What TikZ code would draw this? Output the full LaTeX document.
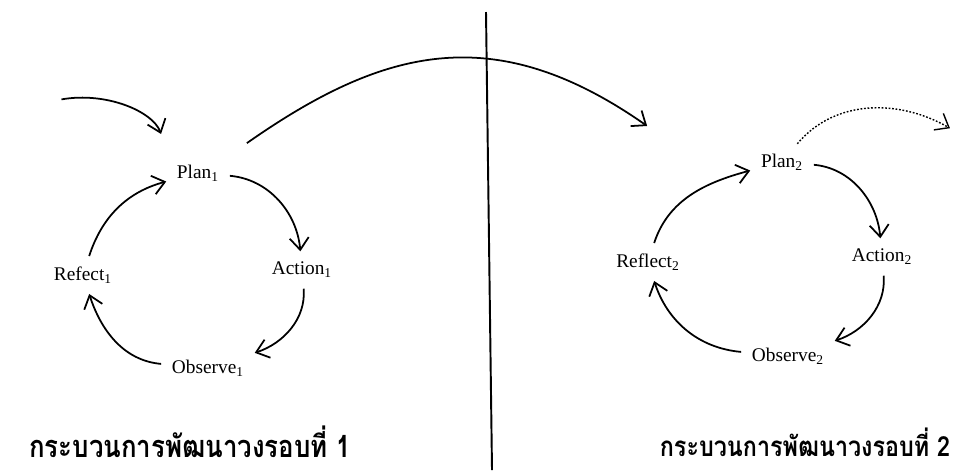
\documentclass[tikz,border=0pt]{standalone}
\usepackage{fontspec}
\setmainfont{Liberation Serif}
\newfontfamily\thaifont[Script=Thai,FakeStretch=0.84]{Loma}
\usetikzlibrary{arrows.meta}

\begin{document}
\begin{tikzpicture}[
    stage/.style = {font=\fontsize{11}{13}\selectfont, inner sep=4pt},
    heading/.style = {font=\thaifont\bfseries\fontsize{17.5}{20}\selectfont, inner sep=0pt},
    cyc/.style = {draw=black, line width=1pt, shorten <=2pt, shorten >=2pt, -{Straight Barb[length=2.4mm,width=3.8mm]}},
    nextloop/.style = {cyc, densely dotted, line width=0.8pt},
    divider/.style = {draw=black, line width=1.1pt}
]
\useasboundingbox (0,0) rectangle (19.12,-9.4);

% Nodes
\node (n_plan1) [stage] at (3.96,-3.46) {Plan\textsubscript{1}};
\node (n_action1) [stage] at (6.04,-5.40) {Action\textsubscript{1}};
\node (n_observe1) [stage] at (4.16,-7.36) {Observe\textsubscript{1}};
\node (n_refect1) [stage] at (1.66,-5.50) {Refect\textsubscript{1}};

\node (n_plan2) [stage] at (15.64,-3.24) {Plan\textsubscript{2}};
\node (n_action2) [stage] at (17.64,-5.14) {Action\textsubscript{2}};
\node (n_observe2) [stage] at (15.76,-7.12) {Observe\textsubscript{2}};
\node (n_reflect2) [stage] at (12.96,-5.24) {Reflect\textsubscript{2}};

\node (n_title1) [heading] at (3.80,-8.84) {กระบวนการพัฒนาวงรอบที่ 1};
\node (n_title2) [heading, font=\thaifont\bfseries\fontsize{15.8}{19}\selectfont] at (16.10,-8.84) {กระบวนการพัฒนาวงรอบที่ 2};

\coordinate (c_start1) at (1.16,-2.00);
\coordinate (c_end1) at (13.00,-2.56);
\coordinate (c_end2) at (19.06,-2.60);
\coordinate (c_divtop) at (9.72,-0.24);
\coordinate (c_divbot) at (9.84,-9.40);

% Divider
\draw [divider] (c_divtop) -- (c_divbot);

% Connections, loop 1
\draw [cyc, shorten >=0.5cm] (c_start1) to[out=10,in=110] (n_plan1.north west);
\draw [cyc] (n_plan1) to[out=-5,in=95] (n_action1);
\draw [cyc] (n_action1) to[out=-85,in=18] (n_observe1);
\draw [cyc] (n_observe1) to[out=175,in=-72] (n_refect1);
\draw [cyc] (n_refect1) to[out=72,in=195] (n_plan1);

% Connections, loop 2
\draw [cyc, shorten <=0.5cm, looseness=1.15] (n_plan1.north east) to[out=35,in=145] (c_end1);
\draw [cyc] (n_plan2) to[out=-5,in=95] (n_action2);
\draw [cyc] (n_action2) to[out=-85,in=18] (n_observe2);
\draw [cyc] (n_observe2) to[out=175,in=-72] (n_reflect2);
\draw [cyc] (n_reflect2) to[out=72,in=195] (n_plan2);
\draw [nextloop] (n_plan2) to[out=50,in=150] (c_end2);

\end{tikzpicture}
\end{document}
